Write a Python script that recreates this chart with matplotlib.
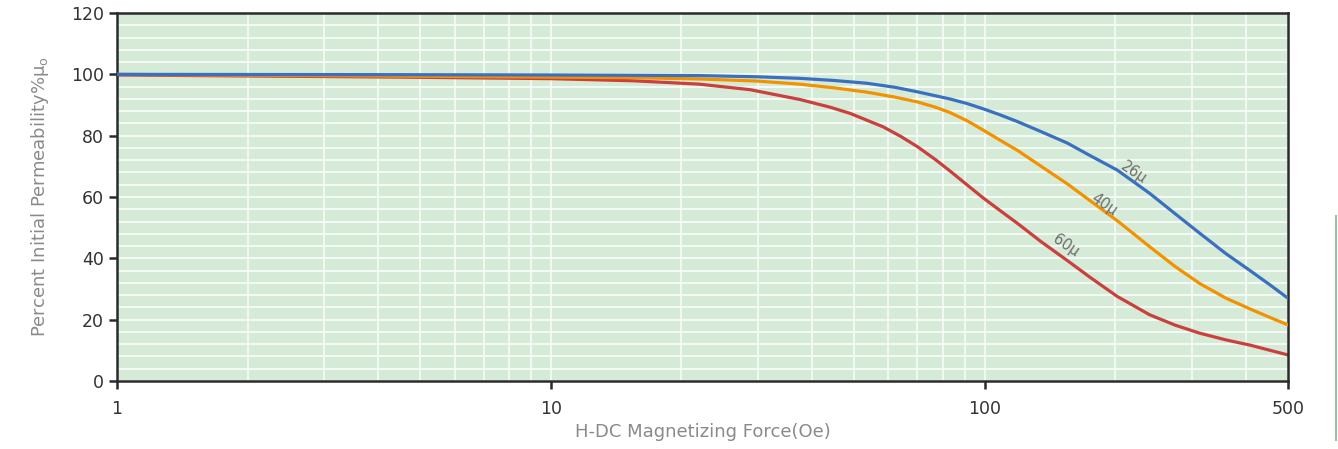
import matplotlib
matplotlib.use('Agg')
import matplotlib.pyplot as plt
from matplotlib.lines import Line2D
from matplotlib.ticker import FixedLocator, MultipleLocator, NullFormatter

# values
h_blue = [1, 4.5, 10, 22, 30, 37.5, 45, 53.5, 62, 70, 83, 91, 100, 108, 119, 135, 155, 175, 202, 240, 275, 313, 360, 409, 455, 500]
p_blue = [100, 99.9, 99.8, 99.6, 99.2, 98.7, 98.0, 97.1, 95.8, 94.3, 92.0, 90.5, 88.6, 86.9, 84.6, 81.3, 77.6, 73.5, 68.8, 61.2, 54.5, 48.2, 41.5, 36.0, 31.3, 27.0]

h_orange = [1, 4.5, 10, 15.5, 22, 30, 37.5, 45, 53.5, 62, 70, 77, 83, 91, 99, 108, 119, 135, 155, 175, 202, 240, 275, 313, 360, 409, 455, 500]
p_orange = [100, 99.4, 99.1, 98.9, 98.5, 97.8, 96.8, 95.6, 94.2, 92.6, 91.0, 89.3, 87.6, 84.9, 81.9, 78.7, 75.2, 70.0, 64.3, 58.8, 52.3, 43.8, 37.3, 31.8, 27.0, 23.5, 20.7, 18.3]

h_red = [1, 4.5, 10, 15.5, 22, 28.8, 37.5, 44, 48.9, 58.3, 64, 70, 77, 83, 91, 99, 108, 119, 135, 155, 175, 202, 240, 275, 313, 360, 409, 455, 500]
p_red = [99.8, 99.1, 98.6, 97.9, 96.8, 95.0, 91.8, 89.3, 87.3, 82.9, 79.8, 76.4, 72.2, 68.6, 64.0, 59.8, 55.8, 51.4, 45.4, 39.3, 33.8, 27.6, 21.6, 18.2, 15.6, 13.4, 11.7, 10.0, 8.5]

curve_labels = ['26μ', '40μ', '60μ']
label_pos = [(220, 67.8), (188, 57.6), (154, 44.2)]
colors = ['#3b70c1', '#f39200', '#c9403d']

fig = plt.figure(figsize=(13.38, 4.49), dpi=100)
ax = fig.add_axes([0.0874, 0.1514, 0.8752, 0.8196])
ax.set_facecolor('#d6ebd7')

ax.plot(h_blue, p_blue, color=colors[0], lw=2.3, zorder=4)
ax.plot(h_orange, p_orange, color=colors[1], lw=2.3, zorder=3)
ax.plot(h_red, p_red, color=colors[2], lw=2.3, zorder=2)

for txt, (x, y) in zip(curve_labels, label_pos):
    ax.text(x, y, txt, rotation=-34, color='#6e6e6e', fontsize=10.5,
            ha='center', va='center', zorder=5)

ax.set_xscale('log')
ax.set_xlim(1, 500)
ax.set_ylim(0, 120)

ax.xaxis.set_major_locator(FixedLocator([1, 10, 100, 500]))
ax.set_xticklabels(['1', '10', '100', '500'])
minor_x = [m * d for d in (1, 10, 100) for m in range(2, 10) if m * d < 500]
ax.xaxis.set_minor_locator(FixedLocator(minor_x))
ax.xaxis.set_minor_formatter(NullFormatter())
ax.yaxis.set_major_locator(MultipleLocator(20))
ax.yaxis.set_minor_locator(MultipleLocator(4))

ax.grid(True, which='both', axis='y', color='white', lw=1.2, alpha=0.85, zorder=1)
ax.grid(True, which='both', axis='x', color='white', lw=1.2, alpha=0.8, zorder=1)
ax.set_axisbelow(True)

for s in ax.spines.values():
    s.set_color('#2a2a2a')
    s.set_linewidth(1.8)

ax.tick_params(axis='both', which='major', direction='out', length=6, width=1.8,
               color='#2a2a2a', labelsize=12.5, labelcolor='#333333')
ax.tick_params(axis='x', which='minor', length=0)
ax.tick_params(axis='y', which='minor', length=0)
ax.tick_params(axis='x', which='major', pad=8)

ax.set_xlabel('H-DC Magnetizing Force(Oe)', color='#8a8a8a', fontsize=13, labelpad=3)
ax.set_ylabel(r'Percent Initial Permeability%$\mathregular{\mu_o}$', color='#8a8a8a',
              fontsize=13, labelpad=14)

# thin border of a neighbouring panel at the right edge
fig.add_artist(Line2D([0.9985, 0.9985], [0.02, 0.52], transform=fig.transFigure,
                      color='#9fbfa3', lw=1.5))

fig.savefig('out.png', dpi=100)
